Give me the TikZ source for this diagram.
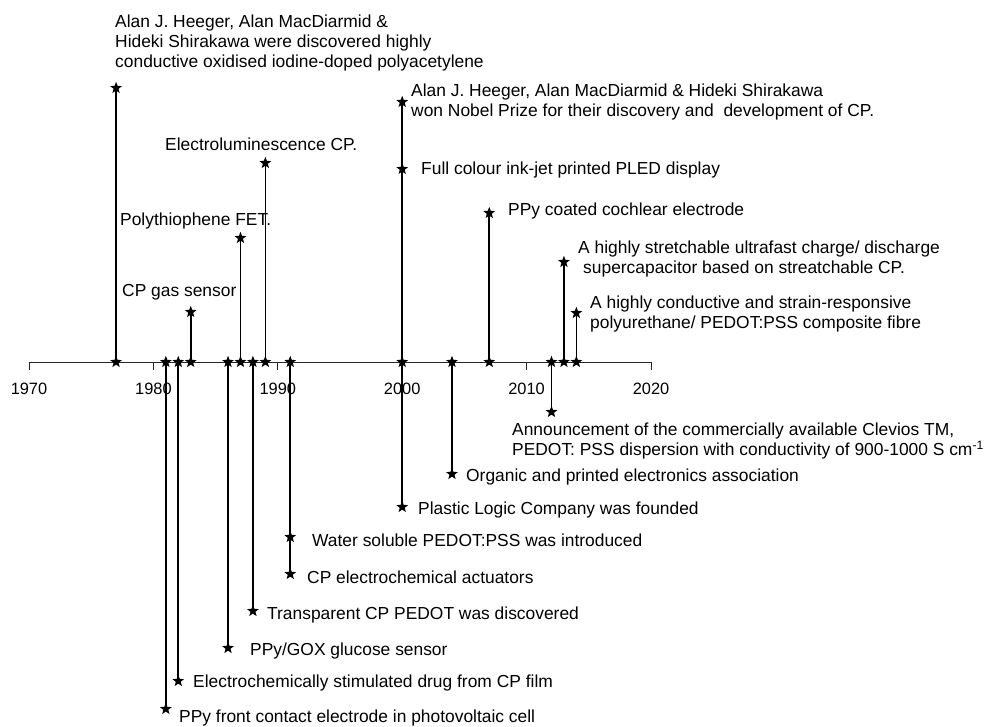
\documentclass[tikz,border=0pt]{standalone}
\usepackage{fontspec}
\setmainfont{Liberation Sans}
\usetikzlibrary{shapes.geometric}

\newcommand\yx[1]{29+(#1-1970)*12.44}

\begin{document}
\begin{tikzpicture}[
    x = 1pt, y = -1pt,
    every node/.style = {font = \fontsize{17.4}{20}\selectfont},
    evstar/.style = {star, star points=5, star point ratio=2.4, fill=black,
                     inner sep=0pt, minimum size=12.5pt},
    axis/.style = {line width=0.9pt, black!85},
    stem/.style = {line width=1.7pt},
    note/.style = {anchor=west, inner sep=0pt, align=left},
    yeartext/.style = {font=\fontsize{16.4}{18}\selectfont, inner sep=0pt}]

\useasboundingbox (0,0) rectangle (984,726);

% time axis
\foreach \yr in {1970,1980,...,2020}{
    \coordinate (tick\yr) at ({\yx{\yr}},362);
    \coordinate (tend\yr) at ({\yx{\yr}},370);
    \draw[axis] (tick\yr) -- (tend\yr);
    \node[yeartext] (lab\yr) at ({\yx{\yr}},389) {\yr};
}
\draw[axis] (tick1970) -- (tick2020);

% stems
\foreach \yr in {1977,1981,1982,1983,1986,1987,1988,1989,1991,2000,2004,2007,2012,2013,2014}
    \node[evstar] (s\yr) at ({\yx{\yr}},362) {};

\node[evstar] (e1977) at ({\yx{1977}},88) {};
\node[evstar] (e1981) at ({\yx{1981}},709) {};
\node[evstar] (e1982) at ({\yx{1982}},681) {};
\node[evstar] (e1983) at ({\yx{1983}},312) {};
\node[evstar] (e1986) at ({\yx{1986}},648) {};
\node[evstar] (e1987) at ({\yx{1987}},238) {};
\node[evstar] (e1988) at ({\yx{1988}},611) {};
\node[evstar] (e1989) at ({\yx{1989}},163) {};
\node[evstar] (w1991) at ({\yx{1991}},537) {};
\node[evstar] (e1991) at ({\yx{1991}},574) {};
\node[evstar] (n2000) at ({\yx{2000}},102) {};
\node[evstar] (f2000) at ({\yx{2000}},169) {};
\node[evstar] (e2000) at ({\yx{2000}},507) {};
\node[evstar] (e2004) at ({\yx{2004}},474) {};
\node[evstar] (e2007) at ({\yx{2007}},213) {};
\node[evstar] (e2012) at ({\yx{2012}},412) {};
\node[evstar] (e2013) at ({\yx{2013}},262) {};
\node[evstar] (e2014) at ({\yx{2014}},313) {};

\foreach \a/\b in {s1977/e1977, s1981/e1981, s1982/e1982, s1983/e1983,
                   s1986/e1986, s1987/e1987, s1988/e1988, s1989/e1989,
                   s1991/e1991, s2000/n2000, s2000/e2000, s2004/e2004,
                   s2007/e2007, s2012/e2012, s2013/e2013, s2014/e2014}
    \draw[stem] (\a.center) -- (\b.center);

% labels above the axis
\node[note] (t1977) at (115,43) {Alan J. Heeger, Alan MacDiarmid \&\\
    Hideki Shirakawa were discovered highly\\
    conductive oxidised iodine-doped polyacetylene};
\node[note] (t1989) at (165,144) {Electroluminescence CP.};
\node[note] (t1987) at (120,221) {Polythiophene FET.};
\node[note] (t1983) at (122,292) {CP gas sensor};
\node[note] (tn2000) at (411,102) {Alan J. Heeger, Alan MacDiarmid \& Hideki Shirakawa\\
    won Nobel Prize for their discovery and\ \ development of CP.};
\node[note] (tf2000) at (421,170) {Full colour ink-jet printed PLED display};
\node[note] (t2007) at (508,211) {PPy coated cochlear electrode};
\node[note] (t2013) at (578,259) {A highly stretchable ultrafast charge/ discharge\\
    \hspace{5pt}supercapacitor based on streatchable CP.};
\node[note] (t2014) at (590,314) {A highly conductive and strain-responsive\\
    polyurethane/ PEDOT:PSS composite fibre};

% labels below the axis
\node[note] (t2012) at (512,441) {Announcement of the commercially available Clevios TM,\\
    PEDOT: PSS dispersion with conductivity of 900-1000 S cm\textsuperscript{-1}};
\node[note] (t2004) at (466,477) {Organic and printed electronics association};
\node[note] (te2000) at (418,510) {Plastic Logic Company was founded};
\node[note] (tw1991) at (312,540) {Water soluble PEDOT:PSS was introduced};
\node[note] (t1991) at (307,577) {CP electrochemical actuators};
\node[note] (t1988) at (267,615) {Transparent CP PEDOT was discovered};
\node[note] (t1986) at (250,651) {PPy/GOX glucose sensor};
\node[note] (t1982) at (193,683) {Electrochemically stimulated drug from CP film};
\node[note] (t1981) at (179,718) {PPy front contact electrode in photovoltaic cell};
\end{tikzpicture}
\end{document}
